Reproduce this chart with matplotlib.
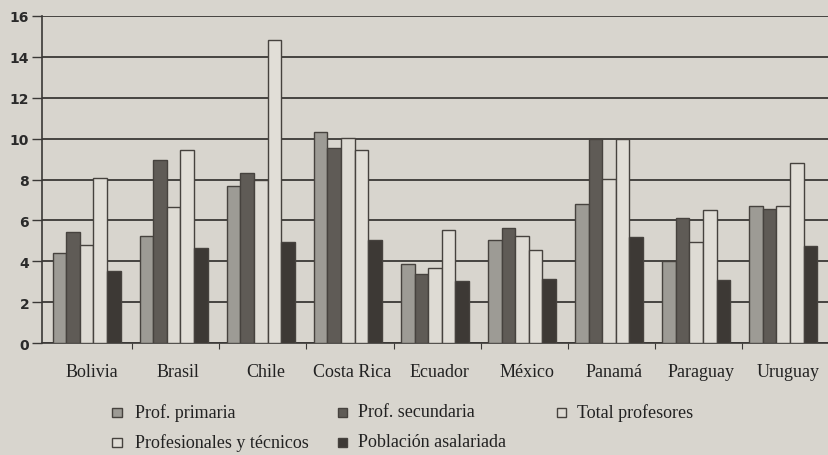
import matplotlib
matplotlib.use("Agg")
import matplotlib.pyplot as plt
import numpy as np
from matplotlib.patches import Rectangle

countries = ["Bolivia", "Brasil", "Chile", "Costa Rica", "Ecuador", "México", "Panamá", "Paraguay", "Uruguay"]
prof_primaria = [4.4, 5.26, 7.7, 10.3, 3.87, 5.05, 6.8, 4.02, 6.69]
prof_secundaria = [5.45, 8.94, 8.33, 9.52, 3.37, 5.62, 9.98, 6.1, 6.56]
total_profesores = [4.8, 6.64, 8.0, 10.03, 3.69, 5.23, 8.02, 4.93, 6.69]
profesionales_tecnicos = [8.07, 9.44, 14.81, 9.44, 5.55, 4.57, 9.98, 6.51, 8.81]
poblacion_asalariada = [3.53, 4.65, 4.96, 5.05, 3.06, 3.13, 5.21, 3.09, 4.77]
series_names = ["Prof. primaria", "Prof. secundaria", "Total profesores",
                "Profesionales y técnicos", "Población asalariada"]
yticks = [0, 2, 4, 6, 8, 10, 12, 14, 16]

bg = "#d8d5ce"
colors = ["#9d9b95", "#5f5b56", "#dedbd4", "#e1ded7", "#3d3935"]
edge = "#46423e"

W, H = 829, 456
fig = plt.figure(figsize=(W / 100, H / 100), dpi=100, facecolor=bg)
ax_left, ax_right, ax_top, ax_bot = 41.7, 829, 16.7, 344.3
ax = fig.add_axes([ax_left / W, 1 - ax_bot / H, (ax_right - ax_left) / W, (ax_bot - ax_top) / H])
ax.set_facecolor(bg)

data = [prof_primaria, prof_secundaria, total_profesores, profesionales_tecnicos, poblacion_asalariada]
x = np.arange(len(countries))
bw = 0.156
offset0 = -0.025
for i, (vals, c) in enumerate(zip(data, colors)):
    ax.bar(x + offset0 + (i - 2) * bw, vals, width=bw, color=c, edgecolor=edge,
           linewidth=1.0, zorder=3)

ax.set_ylim(0, 16)
ax.set_xlim(-0.54, 8.45)
ax.set_yticks(yticks)
ax.set_yticklabels([str(t) for t in yticks], fontfamily="DejaVu Sans",
                   fontweight="bold", fontsize=10, color="#2a2a2a")
for t in yticks:
    ax.axhline(t, color="#3a3836", linewidth=1.3, zorder=1)
ax.tick_params(axis="y", length=7.5, width=1.0, color="#3a3836", pad=1.5)

ax.set_xticks(x + 0.03)
ax.set_xticklabels(countries, fontfamily="Liberation Serif", fontsize=13, color="#222222")
ax.tick_params(axis="x", length=0, pad=14)
ax.set_xticks(np.arange(-0.5, 9, 1)[1:], minor=True)
ax.tick_params(axis="x", which="minor", length=4, width=0.8, color="#3a3836")

for s in ["top", "right"]:
    ax.spines[s].set_visible(False)
for s in ["left", "bottom"]:
    ax.spines[s].set_color("#3a3836")
    ax.spines[s].set_linewidth(1.2)

# legend (manual layout)
legend_items = [
    (0, 117, 413, 135), (1, 343, 413, 358), (2, 561, 413, 577),
    (3, 117, 443, 135), (4, 343, 443, 358),
]
for idx, mx, my, tx in legend_items:
    s = 9
    fig.patches.append(Rectangle(((mx - s / 2) / W, 1 - (my + s / 2) / H), s / W, s / H,
                                 transform=fig.transFigure, facecolor=colors[idx],
                                 edgecolor=edge, linewidth=1.0))
    fig.text(tx / W, 1 - my / H, series_names[idx], fontfamily="Liberation Serif",
             fontsize=13, color="#222222", va="center", ha="left")

fig.savefig("out.png", dpi=100, facecolor=bg)
